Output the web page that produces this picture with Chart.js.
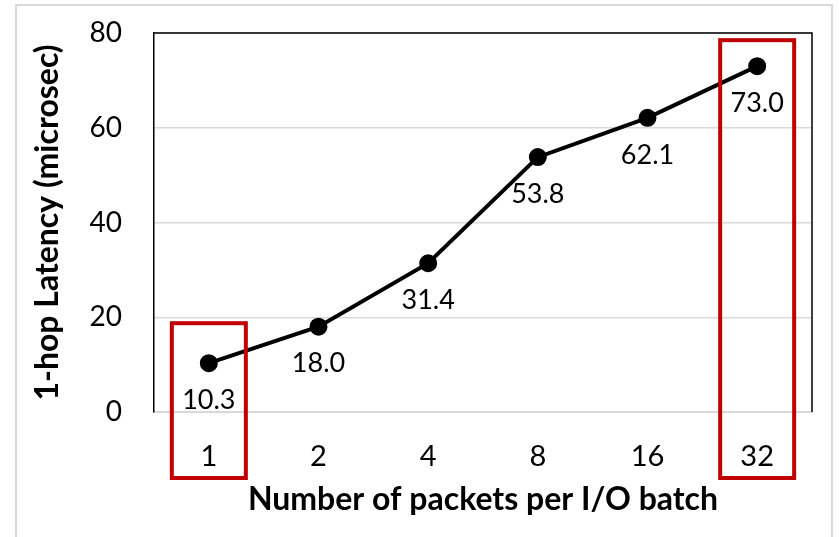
<!DOCTYPE html>
<html>
<head>
<meta charset="utf-8">
<script src="https://cdn.jsdelivr.net/npm/chart.js@4/dist/chart.umd.min.js"></script>
<style>
  html, body { margin: 0; padding: 0; background: #fff; }
  #wrap { width: 839px; height: 537px; position: relative; }
</style>
</head>
<body>
<div id="wrap"><canvas id="latencyChart"></canvas></div>
<script>
const batchSizes = ['1', '2', '4', '8', '16', '32'];
const latencyUs = [10.3, 18.0, 31.4, 53.8, 62.1, 73.0];
const yTickValues = [0, 20, 40, 60, 80];
const highlightedBatches = ['1', '32'];

const FONT = 'Lato, "Open Sans", sans-serif';

// frame, plot border, value labels and red highlight boxes
const decorations = {
  id: 'decorations',
  beforeDraw(chart) {
    const ctx = chart.ctx;
    ctx.save();
    ctx.strokeStyle = '#d9d9d9';
    ctx.lineWidth = 2;
    ctx.strokeRect(16, 5, 816, 560);
    ctx.restore();
  },
  afterDatasetsDraw(chart) {
    const ctx = chart.ctx;
    const area = chart.chartArea;
    const x = chart.scales.x;
    const y = chart.scales.y;
    ctx.save();
    // top + right border of plot
    ctx.strokeStyle = '#000';
    ctx.lineWidth = 1.5;
    ctx.beginPath();
    ctx.moveTo(area.left, area.top);
    ctx.lineTo(area.right, area.top);
    ctx.lineTo(area.right, area.bottom);
    ctx.stroke();

    // value labels under each point
    const meta = chart.getDatasetMeta(0);
    ctx.fillStyle = '#000';
    ctx.font = '27px ' + FONT;
    ctx.textAlign = 'center';
    ctx.textBaseline = 'middle';
    meta.data.forEach((pt, i) => {
      ctx.fillText(latencyUs[i].toFixed(1), pt.x, pt.y + 37);
    });

    // red boxes around the highlighted batch sizes
    ctx.strokeStyle = '#c00000';
    ctx.lineWidth = 4;
    highlightedBatches.forEach(b => {
      const i = batchSizes.indexOf(b);
      const cx = x.getPixelForValue(i);
      const top = y.getPixelForValue(latencyUs[i]) - (i === 0 ? 40 : 26);
      ctx.strokeRect(cx - 37, top, 74, 478 - top);
    });
    ctx.restore();
  }
};

const ctx = document.getElementById('latencyChart').getContext('2d');
new Chart(ctx, {
  type: 'line',
  data: {
    labels: batchSizes,
    datasets: [{
      label: '1-hop Latency',
      data: latencyUs,
      borderColor: '#000',
      backgroundColor: '#000',
      borderWidth: 4,
      pointRadius: 7,
      pointHoverRadius: 7,
      tension: 0,
      fill: false,
    }]
  },
  options: {
    responsive: true,
    maintainAspectRatio: false,
    animation: false,
    layout: {
      padding: { left: 20, top: 33, right: 27, bottom: 18 }
    },
    plugins: {
      legend: { display: false },
      tooltip: { enabled: false },
    },
    scales: {
      x: {
        offset: true,
        grid: { display: false, drawTicks: false },
        border: { color: '#d9d9d9', width: 2 },
        ticks: {
          color: '#000',
          font: { family: FONT, size: 29 },
          padding: 27,
        },
        title: {
          display: true,
          text: 'Number of packets per I/O batch',
          color: '#000',
          font: { family: FONT, size: 32, weight: 'bold' },
          padding: { top: 0, bottom: 0 },
        },
        afterFit(scale) { scale.height = 107; },
      },
      y: {
        min: 0,
        max: 80,
        afterBuildTicks(scale) {
          scale.ticks = yTickValues.map(v => ({ value: v }));
        },
        grid: { color: '#d9d9d9', lineWidth: 1.5, drawTicks: false },
        border: { color: '#000', width: 1.5 },
        ticks: {
          color: '#000',
          font: { family: FONT, size: 28 },
          padding: 32,
        },
        title: {
          display: true,
          text: '1-hop Latency (microsec)',
          color: '#000',
          font: { family: FONT, size: 32, weight: 'bold' },
          padding: { top: 8, bottom: 0 },
        },
        afterFit(scale) {
          scale.width = 134;
          scale.paddingTop = 0;
          scale.paddingBottom = 0;
        },
      }
    }
  },
  plugins: [decorations]
});
</script>
</body>
</html>
